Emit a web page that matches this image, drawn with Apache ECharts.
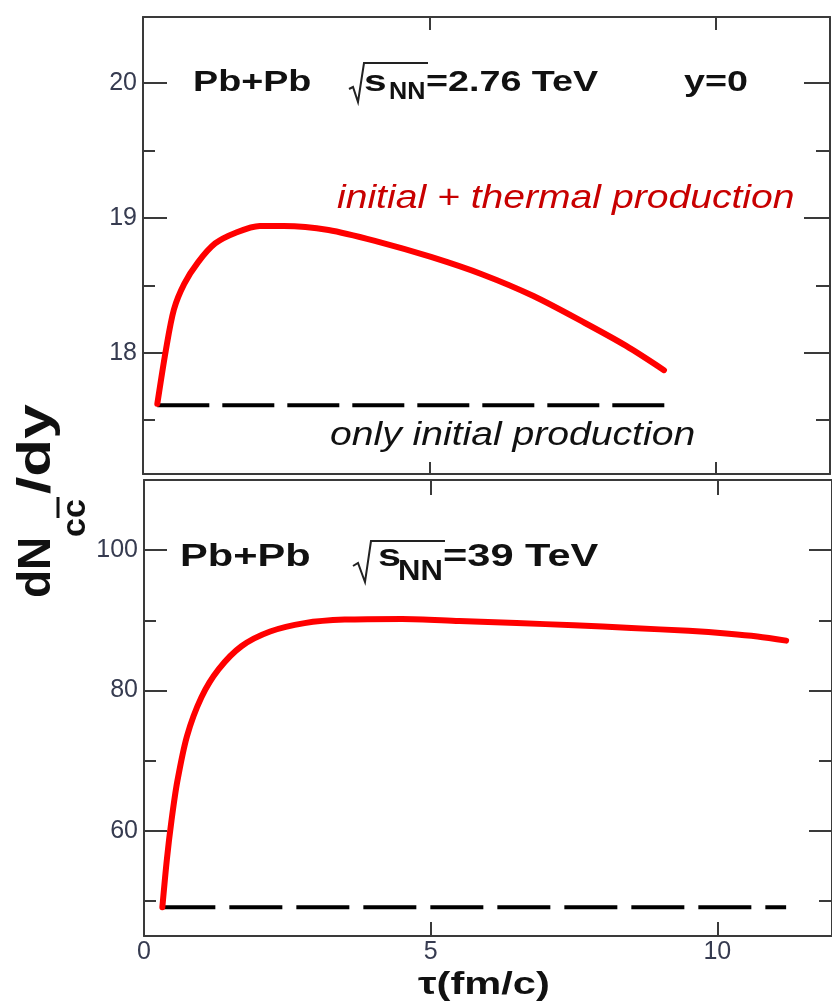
<!DOCTYPE html>
<html><head><meta charset="utf-8">
<script src="https://cdn.jsdelivr.net/npm/echarts@6/dist/echarts.min.js"></script>
<style>html,body{margin:0;padding:0;background:#fff}#c{width:832px;height:1002px}</style>
</head><body><div id="c"></div>
<script>
// ---- Top panel: Pb+Pb, sqrt(sNN)=2.76 TeV, y=0 ----
const tauTop = [0.25,0.40,0.54,0.72,0.96,1.26,1.62,2.04,2.46,3.24,4.13,5.03,5.93,6.82,7.72,8.44,9.1];
const dNTop  = [17.62,18.02,18.32,18.51,18.67,18.81,18.89,18.94,18.94,18.91,18.82,18.71,18.58,18.42,18.22,18.05,17.87];
const tauTopInitial = [0.25, 9.2];
const dNTopInitial  = [17.61, 17.61];
// ---- Bottom panel: Pb+Pb, sqrt(sNN)=39 TeV ----
const tauBottom = [0.32,0.40,0.48,0.58,0.75,1.0,1.3,1.7,2.2,2.8,3.5,4.5,5.5,6.5,7.5,8.5,9.5,10.2,10.7,11.2];
const dNBottom  = [49.1,56,61.5,67,73.5,79,83,86.3,88.4,89.6,90.1,90.2,89.9,89.6,89.3,88.9,88.5,88.1,87.7,87.1];
const tauBottomInitial = [0.32, 11.2];
const dNBottomInitial  = [49.1, 49.1];
// ---- ticks / labels ----
const xTicks = [5, 10];
const xLabels = [0, 5, 10];
const topYMajor = [18, 19, 20];
const topYMinor = [17.5, 18.5, 19.5];
const botYMajor = [60, 80, 100];
const botYMinor = [50, 70, 90];

const zip = (a, b) => a.map((v, i) => [v, b[i]]);
const AX = '#3a3a3a', LBL = '#363b50', FF = '"Liberation Sans", Arial, sans-serif';

function xAx(grid, pos, len, labels) {
  return {type:'value', gridIndex:grid, position:pos, min:0, max:12,
    axisLine:{show:true, onZero:false, lineStyle:{color:AX, width:2}},
    axisTick:{show:true, inside:true, length:len, customValues:xTicks, lineStyle:{color:AX, width:2}},
    axisLabel:{show:!!labels, customValues:labels || [], margin:4, color:LBL, fontSize:25, fontFamily:FF},
    splitLine:{show:false}};
}
function yAx(grid, pos, min, max, ticks, len, labels, line) {
  return {type:'value', gridIndex:grid, position:pos, min:min, max:max,
    axisLine:{show:line, onZero:false, lineStyle:{color:AX, width:2}},
    axisTick:{show:true, inside:true, length:len, customValues:ticks, lineStyle:{color:AX, width:2}},
    axisLabel:{show:!!labels, customValues:labels || [], margin:6, color:LBL, fontSize:25, fontFamily:FF},
    splitLine:{show:false}};
}

function txt(x, y, text, size, o) {
  o = o || {};
  const font = (o.italic ? 'italic ' : '') + (o.bold === false ? '' : 'bold ') + size + 'px ' + FF;
  return {type:'text', x:x, y:y, scaleX:o.sx || 1, rotation:o.rot || 0, z:10,
    style:{text:text, font:font, fill:o.color || '#111', textAlign:'left', textVerticalAlign:'middle',
           align:'left', verticalAlign:'middle'}};
}
function radical(pts) {
  return {type:'polyline', z:10, shape:{points:pts}, style:{stroke:'#222', lineWidth:2, fill:null}};
}

const option = {
  animation:false,
  backgroundColor:'#fff',
  grid:[{left:143, top:17, width:687, height:457}, {left:144, top:480, width:692, height:456}],
  xAxis:[xAx(0,'bottom',12), xAx(0,'top',13), xAx(1,'bottom',14,xLabels), xAx(1,'top',15)],
  yAxis:[
    yAx(0,'left',17.1,20.49,topYMajor,24,topYMajor,true),
    yAx(0,'left',17.1,20.49,topYMinor,12,null,false),
    yAx(0,'right',17.1,20.49,topYMajor,26,null,true),
    yAx(0,'right',17.1,20.49,topYMinor,14,null,false),
    yAx(1,'left',45,110,botYMajor,23,botYMajor,true),
    yAx(1,'left',45,110,botYMinor,12,null,false),
    yAx(1,'right',45,110,botYMajor,23,null,true),
    yAx(1,'right',45,110,botYMinor,13,null,false)
  ],
  series:[
    {type:'line', xAxisIndex:0, yAxisIndex:0, data:zip(tauTopInitial, dNTopInitial), symbol:'none', z:2,
     lineStyle:{color:'#000', width:4, type:[52,13]}},
    {type:'line', xAxisIndex:0, yAxisIndex:0, data:zip(tauTop, dNTop), symbol:'none', z:3,
     smooth:0.3, lineStyle:{color:'#ff0000', width:6, cap:'round', join:'round'}},
    {type:'line', xAxisIndex:2, yAxisIndex:4, data:zip(tauBottomInitial, dNBottomInitial), symbol:'none', z:2,
     lineStyle:{color:'#000', width:4, type:[53,14]}},
    {type:'line', xAxisIndex:2, yAxisIndex:4, data:zip(tauBottom, dNBottom), symbol:'none', z:3,
     smooth:0.3, lineStyle:{color:'#ff0000', width:6, cap:'round', join:'round'}}
  ],
  graphic:{elements:[
    // top panel header
    txt(193, 83, 'Pb+Pb', 29, {sx:1.3}),
    radical([[349,89],[353,87],[358,102],[364,63],[428,63]]),
    txt(364, 83, 's', 29, {sx:1.4}),
    txt(389, 92, 'NN', 24, {sx:1.05}),
    txt(426, 83, '=2.76 TeV', 29, {sx:1.3}),
    txt(684, 83, 'y=0', 29, {sx:1.3}),
    txt(337, 199, 'initial + thermal production', 34, {italic:true, bold:false, sx:1.15, color:'#c80000'}),
    txt(330, 436, 'only initial production', 34, {italic:true, bold:false, sx:1.15, color:'#111'}),
    // bottom panel header
    txt(180, 557, 'Pb+Pb', 32, {sx:1.3}),
    radical([[353,566],[358,563],[365,582],[371,541],[445,541]]),
    txt(378, 557, 's', 32, {sx:1.3}),
    txt(398, 572, 'NN', 29, {sx:1.07}),
    txt(443, 557, '=39 TeV', 32, {sx:1.3}),
    // x axis title
    txt(418, 985, 'τ(fm/c)', 32, {sx:1.3}),
    // y axis title (rotated)
    txt(37, 598, 'dN', 46, {rot:Math.PI/2}),
    txt(76, 537, 'cc', 34, {rot:Math.PI/2}),
    {type:'line', z:10, shape:{x1:58, y1:497, x2:58, y2:518}, style:{stroke:'#111', lineWidth:3}},
    txt(37, 494, '/dy', 46, {rot:Math.PI/2, sx:1.35})
  ]}
};
const chart = echarts.init(document.getElementById('c'), null, {renderer:'canvas'});
chart.setOption(option);
</script>
</body></html>
